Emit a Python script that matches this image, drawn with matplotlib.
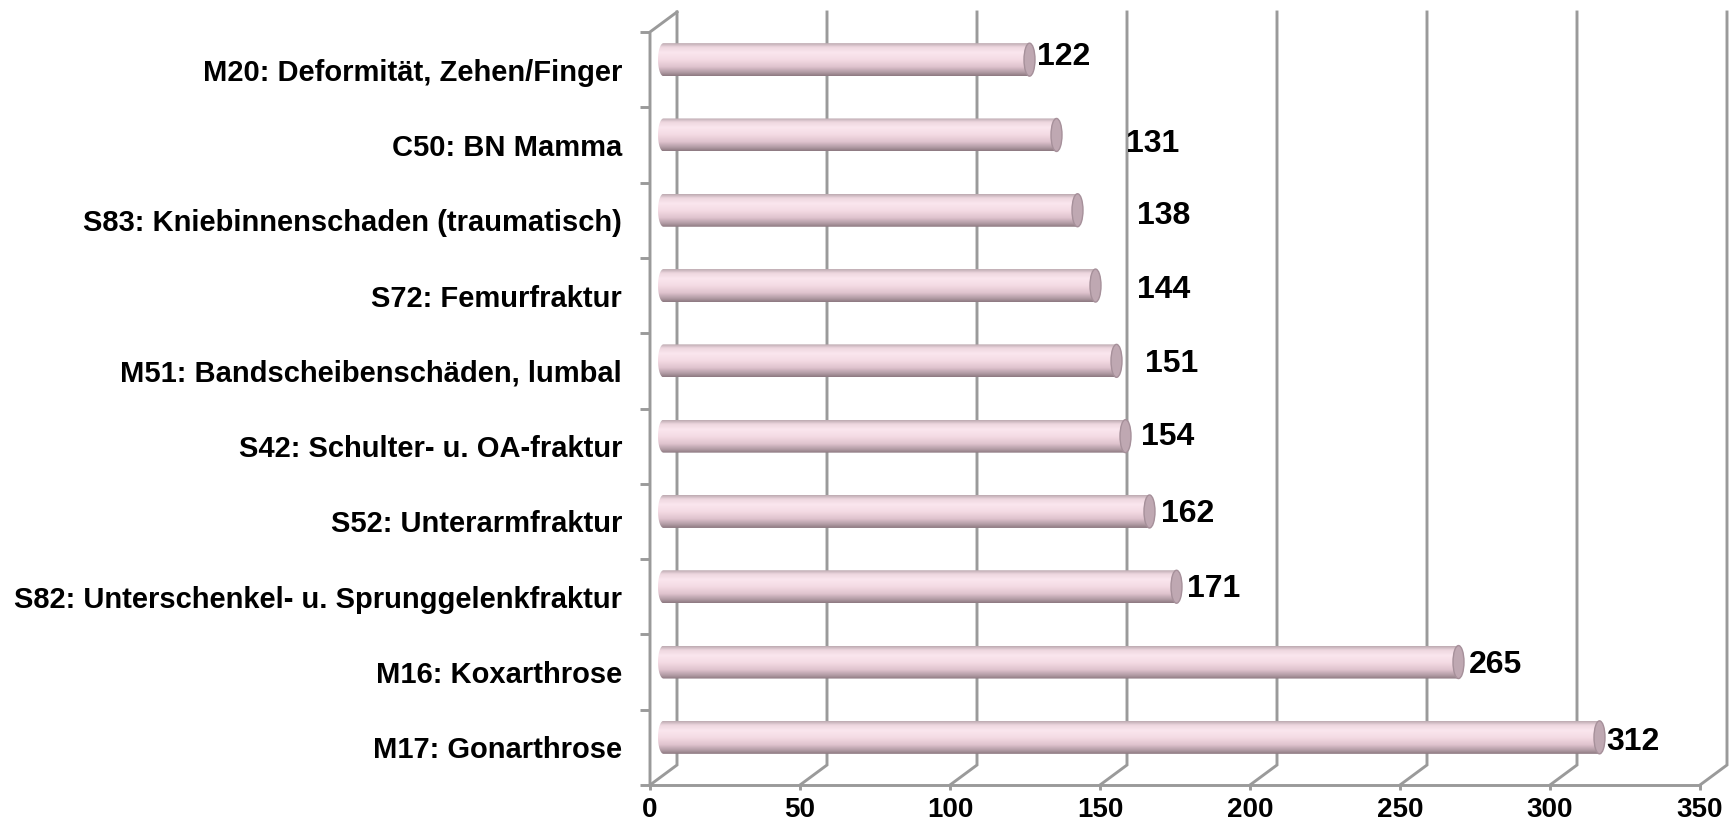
import numpy as np
import matplotlib
matplotlib.use("Agg")
import matplotlib.pyplot as plt
from matplotlib.path import Path
from matplotlib.patches import PathPatch, Ellipse
from matplotlib.colors import LinearSegmentedColormap

plt.rcParams['font.family'] = ['Liberation Sans', 'DejaVu Sans']
plt.rcParams['font.weight'] = 'bold'

# ---- data (top to bottom as shown) ----
categories = [
    "M20: Deformität, Zehen/Finger",
    "C50: BN Mamma",
    "S83: Kniebinnenschaden (traumatisch)",
    "S72: Femurfraktur",
    "M51: Bandscheibenschäden, lumbal",
    "S42: Schulter- u. OA-fraktur",
    "S52: Unterarmfraktur",
    "S82: Unterschenkel- u. Sprunggelenkfraktur",
    "M16: Koxarthrose",
    "M17: Gonarthrose",
]
values = [122, 131, 138, 144, 151, 154, 162, 171, 265, 312]
xticks = [0, 50, 100, 150, 200, 250, 300, 350]

# label placement quirks (in axis units / pixel offsets), as in the original
label_dx = [7, 27.7, 24.3, 18.3, 14, 9.7, 8.3, 8, 8, 6.7]
label_dy_px = [-3, 9, 6, 4, 3, 1, 3, 2, 3, 5]

W, H = 1734, 825
fig = plt.figure(figsize=(W / 100, H / 100), dpi=100)
ax_left, ax_right, ax_bottom, ax_top = 650, 1700, 785, 32
ax = fig.add_axes([ax_left / W, (H - ax_bottom) / H, (ax_right - ax_left) / W, (ax_bottom - ax_top) / H])
n = len(categories)
ax.set_xlim(0, 350)
ax.set_ylim(-0.5, n - 0.5)
px_x = (ax_right - ax_left) / 350.0
px_y = (ax_bottom - ax_top) / n

DX = 27 / px_x   # depth offset
DY = 20 / px_y
grid_c = '#9a9a9a'
lw = 2.1
top_back = n - 0.5 + DY
bot = -0.5

# back wall gridlines + floor diagonals
for v in xticks:
    ax.plot([v, v + DX, v + DX], [bot, bot + DY, top_back], color=grid_c, lw=lw,
            clip_on=False, zorder=1, solid_joinstyle='miter')
# left wall front edge + top diagonal
ax.plot([0, 0, DX], [bot, n - 0.5, top_back], color=grid_c, lw=lw, clip_on=False, zorder=1)
# floor front edge
ax.plot([0, 350], [bot, bot], color=grid_c, lw=lw, clip_on=False, zorder=1)

# bars (cylinders) at mid depth
ys = np.arange(n)[::-1]
mdx, mdy = DX / 2, DY / 2
bh = 33 / px_y
rx = 5.5 / px_x
bars = ax.barh(ys + mdy, values, left=mdx, height=bh, color='#f3d8e1', zorder=2, lw=0)

cmap = LinearSegmentedColormap.from_list('cyl', [
    (0.0, '#8c7880'), (0.10, '#ae98a1'), (0.28, '#dfc3ce'), (0.50, '#f4dbe4'),
    (0.72, '#fae6ee'), (0.88, '#eed7df'), (1.0, '#bcaab1')])
grad = np.linspace(0, 1, 200).reshape(-1, 1)

for b in bars:
    x0 = b.get_x()
    x1 = x0 + b.get_width()
    yb = b.get_y()
    yt = yb + b.get_height()
    yc = (yb + yt) / 2
    ry = (yt - yb) / 2
    th = np.linspace(np.pi / 2, 3 * np.pi / 2, 40)
    verts = [(x0, yb), (x1, yb), (x1, yt), (x0, yt)]
    verts += [(x0 + rx * np.cos(t), yc + ry * np.sin(t)) for t in th]
    verts.append((x0, yb))
    codes = [Path.MOVETO] + [Path.LINETO] * (len(verts) - 2) + [Path.CLOSEPOLY]
    path = Path(verts, codes)
    patch = PathPatch(path, facecolor='none', edgecolor='none', zorder=3)
    ax.add_patch(patch)
    im = ax.imshow(grad, extent=(x0 - rx, x1, yb, yt), aspect='auto', cmap=cmap,
                   origin='lower', zorder=3, interpolation='bilinear')
    im.set_clip_path(patch)
    b.set_visible(False)
    cap = Ellipse((x1, yc), 2 * rx, 2 * ry, facecolor='#bfa8b2', edgecolor='#a6909a',
                  lw=1.0, zorder=4)
    ax.add_patch(cap)

ax.set_xlim(0, 350)
ax.set_ylim(-0.5, n - 0.5)

# value labels
for i, (v, y) in enumerate(zip(values, ys)):
    ax.text(v + label_dx[i], y + mdy - label_dy_px[i] / px_y, str(v),
            fontsize=23, fontweight='bold', ha='left', va='center', zorder=5)

for s in ax.spines.values():
    s.set_visible(False)
ax.set_xticks(xticks)
ax.set_xticklabels([str(t) for t in xticks])
ax.tick_params(axis='x', length=5 * 0.72, width=lw, color=grid_c, pad=5, labelsize=20)
ax.set_yticks(ys)
ax.set_yticklabels(categories)
ax.tick_params(axis='y', length=0, pad=20, labelsize=21)
ax.set_yticks(np.arange(-0.5, n, 1.0), minor=True)
ax.tick_params(axis='y', which='minor', length=10 * 0.72, width=lw, color=grid_c)
for lab in ax.get_xticklabels() + ax.get_yticklabels():
    lab.set_fontweight('bold')
ax.patch.set_alpha(0)

fig.savefig('out.png', dpi=100)
